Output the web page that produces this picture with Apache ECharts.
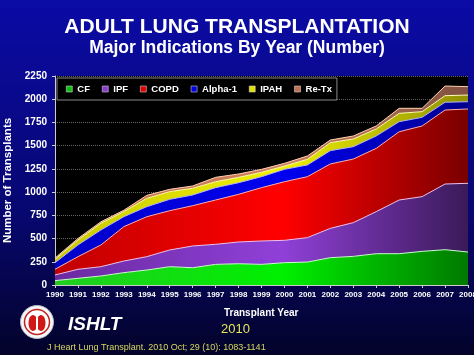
<!DOCTYPE html>
<html><head><meta charset="utf-8">
<script src="https://cdn.jsdelivr.net/npm/echarts@6/dist/echarts.min.js"></script>
<style>html,body{margin:0;padding:0;}#c{width:474px;height:355px;}</style>
</head><body><div id="c"></div>
<script>
const years = ['1990','1991','1992','1993','1994','1995','1996','1997','1998','1999','2000','2001','2002','2003','2004','2005','2006','2007','2008'];
const cf    = [47,72,97,133,161,197,186,222,229,222,240,247,294,308,337,337,362,380,355];
const ipf   = [61,97,100,125,144,180,234,216,234,252,241,263,316,363,453,578,589,707,740];
const copd  = [61,136,234,370,430,423,434,477,513,574,631,656,693,685,681,735,761,797,800];
const alpha1= [71,126,161,107,108,122,115,133,125,118,133,126,143,133,133,108,93,83,78];
const ipah  = [36,53,72,55,90,83,72,64,58,47,36,61,86,83,76,90,61,71,72];
const retx  = [14,16,16,15,32,25,25,47,36,32,29,36,29,32,32,54,36,104,90];
const yTicks = [0,250,500,750,1000,1250,1500,1750,2000,2250];

const chart = echarts.init(document.getElementById('c'));
const F = 'Liberation Sans, Arial, sans-serif';
function hg(c0,c1,c2){return new echarts.graphic.LinearGradient(0,0,1,0,[{offset:0,color:c0},{offset:0.55,color:c1},{offset:1,color:c2}]);}
function mk(name, data, solid, grad, line){
  return {name, type:'line', stack:'t', data, symbol:'none', smooth:false,
    itemStyle:{color:solid, borderColor:'#ccc', borderWidth:1},
    lineStyle:{width:1, color:line},
    areaStyle:{color:grad, opacity:1}};
}
function t(text, left, top, size, color, weight, style){
  return {text, left, top, padding:0, textStyle:{color, fontSize:size, fontWeight:weight, fontStyle:style||'normal', fontFamily:F}};
}
chart.setOption({
  backgroundColor: new echarts.graphic.LinearGradient(0,0,0,1,[{offset:0,color:'#0b0ba6'},{offset:0.6,color:'#070770'},{offset:1,color:'#03032a'}]),
  animation:false,
  title:[
    {text:'ADULT LUNG TRANSPLANTATION', left:'center', top:17, padding:0, textStyle:{color:'#fff',fontSize:21,fontWeight:'bold',fontFamily:F}},
    {text:'Major Indications By Year (Number)', left:'center', top:39, padding:0, textStyle:{color:'#fff',fontSize:17.5,fontWeight:'bold',fontFamily:F}},
    t('Transplant Year', 224, 308, 10, '#fff', 'bold'),
    t('2010', 221, 323, 13, '#e6e65a', 'normal'),
    t('J Heart Lung Transplant. 2010 Oct; 29 (10): 1083-1141', 47, 343, 9, '#d8d860', 'normal'),
    t('ISHLT', 68, 315, 19, '#fff', 'bold', 'italic')
  ],
  graphic:[
    {type:'circle', shape:{cx:37,cy:322,r:16.5}, style:{fill:'#f6f6f6', stroke:'#b8b8c8', lineWidth:1}},
    {type:'circle', shape:{cx:37,cy:322,r:12.5}, style:{fill:'#fff', stroke:'#c02020', lineWidth:1.5}},
    {type:'ellipse', shape:{cx:33,cy:323,rx:4.5,ry:8}, style:{fill:'#d01818'}},
    {type:'ellipse', shape:{cx:41,cy:323,rx:4.5,ry:8}, style:{fill:'#d01818'}},
    {type:'rect', shape:{x:36,y:314,width:2,height:16}, style:{fill:'#fff'}}
  ],
  legend:{
    left:57, top:78, padding:[6,5,6,9], itemGap:12, itemWidth:6, itemHeight:6,
    backgroundColor:'#000', borderColor:'#888', borderWidth:1, icon:'rect',
    itemStyle:{borderColor:'#ccc', borderWidth:0.6},
    textStyle:{color:'#fff', fontSize:9.5, fontWeight:'bold', fontFamily:F},
    data:['CF','IPF','COPD','Alpha-1','IPAH','Re-Tx']
  },
  grid:{left:55, right:6, top:76, bottom:70, show:true, backgroundColor:'#000', borderWidth:0, outerBoundsMode:'none', containLabel:false},
  xAxis:{type:'category', data:years, boundaryGap:false,
    axisLine:{lineStyle:{color:'#ccc'}}, axisTick:{show:true, lineStyle:{color:'#ccc'}, length:3},
    axisLabel:{color:'#fff', fontSize:8, fontWeight:'bold', fontFamily:F, interval:0, margin:6, hideOverlap:false},
    splitLine:{show:false}},
  yAxis:{type:'value', min:0, max:2250, interval:250,
    name:'Number of Transplants', nameLocation:'middle', nameGap:40,
    nameTextStyle:{color:'#fff', fontSize:11.5, fontWeight:'bold', fontFamily:F},
    axisLine:{show:true, lineStyle:{color:'#ccc'}}, axisTick:{show:true, lineStyle:{color:'#ccc'}, length:3},
    axisLabel:{color:'#fff', fontSize:10, fontWeight:'bold', fontFamily:F, margin:8,
      formatter:v=>yTicks.includes(v)?String(v):''},
    splitLine:{show:true, lineStyle:{color:'#666', type:'dotted', width:1}}},
  series:[
    mk('CF', cf, '#10c010', hg('#22cc22','#00f000','#007a00'), '#c8ffc8'),
    mk('IPF', ipf, '#8a3acc', hg('#6a2aa0','#9040d8','#3a1a58'), '#f0c0f0'),
    mk('COPD', copd, '#e00000', hg('#c00000','#ff0000','#7a0000'), '#ffb0b0'),
    mk('Alpha-1', alpha1, '#0000e0', hg('#0000c8','#0000f0','#000090'), '#b0b0ff'),
    mk('IPAH', ipah, '#e0e000', hg('#c8c800','#f0f000','#909000'), '#ffffb0'),
    mk('Re-Tx', retx, '#c07050', hg('#c07040','#d08060','#805040'), '#ffd0b0')
  ]
});
</script></body></html>
